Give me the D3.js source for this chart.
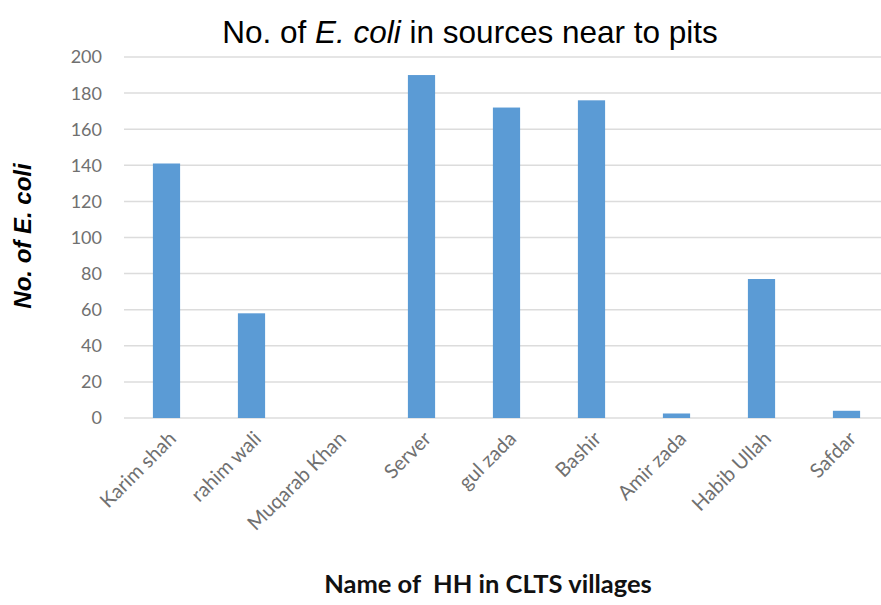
<!DOCTYPE html>
<html>
<head>
<meta charset="utf-8">
<script src="https://cdn.jsdelivr.net/npm/d3@7"></script>
<style>
  body { margin: 0; background: #fff; }
  svg { display: block; }
</style>
</head>
<body>
<svg width="881" height="605"></svg>
<script>
let names = ['Karim shah', 'rahim wali', 'Muqarab Khan', 'Server', 'gul zada', 'Bashir', 'Amir zada', 'Habib Ullah', 'Safdar'];
let counts = [141, 58, 0, 190, 172, 176, 2.5, 77, 4];
let yTicks = [0, 20, 40, 60, 80, 100, 120, 140, 160, 180, 200];

let svg = d3.select('svg');

let x = d3.scaleBand()
    .domain(names)
    .range([124, 889])
    .paddingInner(0.68)
    .paddingOuter(0.34);

let y = d3.scaleLinear()
    .domain([0, 200])
    .range([418, 57]);

// gridlines
svg.append('g')
  .selectAll('line')
  .data(yTicks)
  .join('line')
    .attr('x1', 124)
    .attr('x2', 881)
    .attr('y1', (d) => y(d))
    .attr('y2', (d) => y(d))
    .attr('stroke', '#dcdcdc')
    .attr('stroke-width', 1.5);

// y tick labels
svg.append('g')
  .selectAll('text')
  .data(yTicks)
  .join('text')
    .attr('x', 102)
    .attr('y', (d) => y(d))
    .attr('dy', '.36em')
    .attr('text-anchor', 'end')
    .style('font-family', 'Lato, "Open Sans", sans-serif')
    .style('font-size', '18px')
    .style('fill', '#707070')
    .text((d) => d);

// bars
svg.append('g')
  .selectAll('rect')
  .data(counts)
  .join('rect')
    .attr('x', (d, i) => x(names[i]))
    .attr('width', x.bandwidth())
    .attr('y', (d) => y(d))
    .attr('height', (d) => y(0) - y(d))
    .attr('fill', '#5b9bd5');

// x tick labels, rotated
svg.append('g')
  .selectAll('text')
  .data(names)
  .join('text')
    .attr('transform', (d) => `translate(${x(d) + x.bandwidth() / 2 + 6}, 435) rotate(-45)`)
    .attr('text-anchor', 'end')
    .attr('dy', '.35em')
    .style('font-family', 'Lato, "Open Sans", sans-serif')
    .style('font-size', '20px')
    .style('fill', '#707070')
    .text((d) => d);

// title
let title = svg.append('text')
    .attr('x', 470)
    .attr('y', 43)
    .attr('text-anchor', 'middle')
    .style('font-family', '"Liberation Sans", Arial, sans-serif')
    .style('font-size', '31.5px')
    .style('fill', '#000');
title.append('tspan').text('No. of ');
title.append('tspan').style('font-style', 'italic').text('E. coli');
title.append('tspan').text(' in sources near to pits');

// y axis title
let yTitle = svg.append('text')
    .attr('transform', 'translate(31, 236) rotate(-90)')
    .attr('text-anchor', 'middle')
    .style('font-family', '"Liberation Sans", Arial, sans-serif')
    .style('font-size', '24px')
    .style('font-weight', 'bold')
    .style('font-style', 'italic')
    .style('fill', '#000');
yTitle.append('tspan').text('No. of ');
yTitle.append('tspan').text('E. coli');

// x axis title
svg.append('text')
    .attr('x', 488)
    .attr('y', 593)
    .attr('text-anchor', 'middle')
    .style('font-family', 'Lato, "Open Sans", sans-serif')
    .style('font-size', '25.5px')
    .style('font-weight', 'bold')
    .style('fill', '#111')
    .style('white-space', 'pre')
    .text('Name of  HH in CLTS villages');
</script>
</body>
</html>
